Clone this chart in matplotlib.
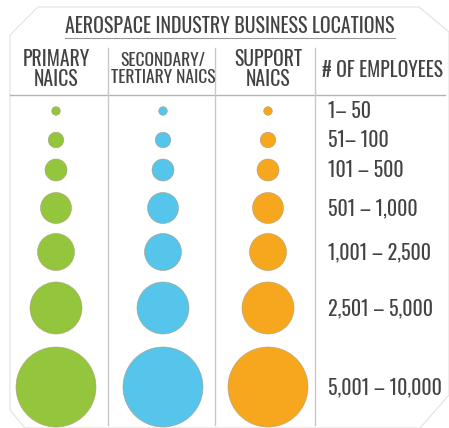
import matplotlib.pyplot as plt
from matplotlib.patches import Circle, Polygon

# data
title = 'AEROSPACE INDUSTRY BUSINESS LOCATIONS'
columns = ['PRIMARY\nNAICS', 'SECONDARY/\nTERTIARY NAICS', 'SUPPORT\nNAICS']
column_colors = ['#93c63d', '#55c5ec', '#f6a71e']
size_header = '# OF EMPLOYEES'
employee_bins = ['1– 50', '51– 100', '101 – 500', '501 – 1,000',
                 '1,001 – 2,500', '2,501 – 5,000', '5,001 – 10,000']
bubble_radius = [4.3, 7.8, 11, 15.5, 18.5, 26, 40]

# layout (pixel coords of the 449x428 canvas)
row_y = [111, 140, 170, 208, 252, 308, 387]
col_x = [56, 163, 268]
header_size = [14.2, 12.6, 14.2]
label_x = 328
text_color = '#434343'

plt.rcParams['font.family'] = ['Oswald', 'Roboto Condensed', 'DejaVu Sans']

fig = plt.figure(figsize=(4.49, 4.28), dpi=100)
ax = fig.add_axes([0, 0, 1, 1])
ax.set_xlim(0, 449)
ax.set_ylim(428, 0)
ax.axis('off')

# faint outer frame with clipped corners
frame = Polygon([(38, 7), (419, 7), (449, 32), (449, 395), (420, 428),
                 (25, 428), (10, 410), (10, 35)],
                closed=True, fill=False, edgecolor='#e2e2e2', lw=0.8)
ax.add_patch(frame)

ax.text(230, 24, title, ha='center', va='center_baseline', fontsize=14.3,
        color=text_color)
ax.plot([65, 395], [38, 38], color='#9a9a9a', lw=0.8)

for x, name, fs in zip(col_x, columns, header_size):
    ax.text(x, 69, name, ha='center', va='center', fontsize=fs,
            color=text_color, linespacing=0.95)
ax.text(383, 70, size_header, ha='center', va='center', fontsize=14.2,
        color=text_color)

# grid lines
ax.plot([10, 445], [95, 95], color='#b5b5b5', lw=1.0)
for x in [108, 215, 315]:
    ax.plot([x, x], [48, 425], color='#c8c8c8', lw=1.0)

for y, r, label in zip(row_y, bubble_radius, employee_bins):
    for x, c in zip(col_x, column_colors):
        ax.add_patch(Circle((x, y), r, facecolor=c, edgecolor='#b0a080',
                            lw=0.4))
    ax.text(label_x, y, label, ha='left', va='center', fontsize=14.4,
            color=text_color)

fig.savefig('out.png', dpi=100)
